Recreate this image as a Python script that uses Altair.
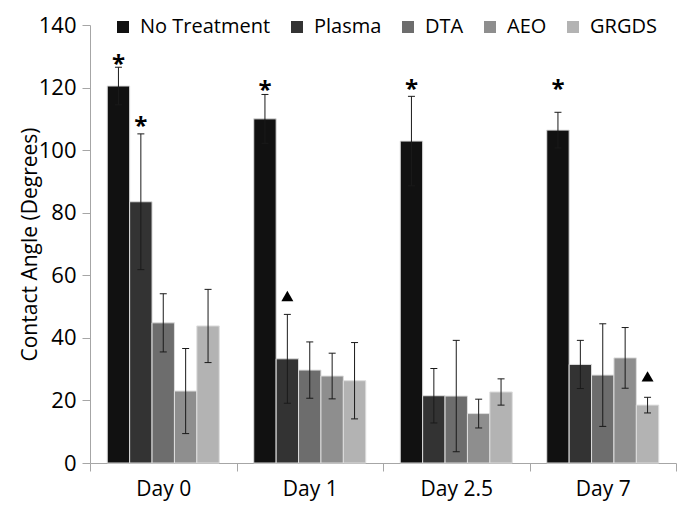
import altair as alt
import pandas as pd

days = ["Day 0", "Day 1", "Day 2.5", "Day 7"]
groups = ["No Treatment", "Plasma", "DTA", "AEO", "GRGDS"]
colors = ["#111111", "#333333", "#6d6d6d", "#8e8e8e", "#b3b3b3"]

no_treatment = [120.5, 110.0, 102.9, 106.4]
no_treatment_sd = [6.0, 7.8, 14.3, 5.7]
plasma = [83.5, 33.3, 21.5, 31.5]
plasma_sd = [21.7, 14.2, 8.7, 7.7]
dta = [44.8, 29.7, 21.4, 28.1]
dta_sd = [9.3, 9.0, 17.8, 16.4]
aeo = [23.0, 27.8, 15.8, 33.6]
aeo_sd = [13.6, 7.3, 4.6, 9.7]
grgds = [43.8, 26.3, 22.7, 18.5]
grgds_sd = [11.7, 12.2, 4.2, 2.5]

star_days = ["Day 0", "Day 0", "Day 1", "Day 2.5", "Day 7"]
star_groups = ["No Treatment", "Plasma", "No Treatment", "No Treatment", "No Treatment"]
star_y = [129.4, 109.5, 121.2, 121.5, 121.5]

tri_days = ["Day 1", "Day 7"]
tri_groups = ["Plasma", "GRGDS"]
tri_y = [53.4, 27.7]

y_ticks = [0, 20, 40, 60, 80, 100, 120, 140]

means = [no_treatment, plasma, dta, aeo, grgds]
sds = [no_treatment_sd, plasma_sd, dta_sd, aeo_sd, grgds_sd]
rows = []
for g, m, s in zip(groups, means, sds):
    for d, mv, sv in zip(days, m, s):
        rows.append({"day": d, "group": g, "mean": mv, "lo": mv - sv, "hi": mv + sv})
df = pd.DataFrame(rows)
stars = pd.DataFrame({"day": star_days, "group": star_groups, "y": star_y})
tris = pd.DataFrame({"day": tri_days, "group": tri_groups, "y": tri_y})

FONT = "Open Sans"
AXC = "#a6a6a6"

x_enc = alt.X(
    "day:N", sort=days,
    scale=alt.Scale(domain=days, paddingInner=0, paddingOuter=0),
    axis=alt.Axis(title=None, labelAngle=0, tickBand="extent", tickSize=8,
                  labelFontSize=21, labelFont=FONT, labelColor="black",
                  labelPadding=7, domainColor=AXC, tickColor=AXC),
)
xo_enc = alt.XOffset("group:N", sort=groups,
                     scale=alt.Scale(domain=groups, paddingInner=0, paddingOuter=0.77))
y_scale = alt.Scale(domain=[0, 140], nice=False)

bars = alt.Chart(df).mark_bar(stroke="#dddddd", strokeWidth=1).encode(
    x=x_enc,
    xOffset=xo_enc,
    y=alt.Y("mean:Q", scale=y_scale,
            axis=alt.Axis(values=y_ticks, title="Contact Angle (Degrees)", grid=False,
                          tickSize=8, labelFontSize=22, labelFont=FONT, labelColor="black",
                          labelPadding=6, titleFontSize=21, titleFont=FONT,
                          titleFontWeight="normal", titleColor="black", titleX=-50,
                          domainColor=AXC, tickColor=AXC)),
    color=alt.Color("group:N", sort=groups,
                    scale=alt.Scale(domain=groups, range=colors),
                    legend=alt.Legend(orient="none", legendX=23, legendY=-8,
                                      direction="horizontal", title=None,
                                      symbolType="square", symbolSize=144,
                                      symbolStrokeWidth=0, labelFontSize=20,
                                      labelFont=FONT, labelColor="black",
                                      labelOffset=7, columnPadding=16, padding=0)),
)

rules = alt.Chart(df).mark_rule(color="#1a1a1a", strokeWidth=1).encode(
    x=alt.X("day:N", sort=days), xOffset=alt.XOffset("group:N", sort=groups),
    y=alt.Y("lo:Q"), y2="hi:Q",
)

caps = alt.Chart(df).transform_fold(["lo", "hi"], as_=["cap", "val"]).mark_tick(
    color="#1a1a1a", size=7, thickness=1, opacity=1
).encode(
    x=alt.X("day:N", sort=days), xOffset=alt.XOffset("group:N", sort=groups),
    y=alt.Y("val:Q"),
)

star_layer = alt.Chart(stars).mark_text(
    text="*", font=FONT, fontSize=24, fontWeight="bold", color="black",
    baseline="alphabetic", dy=14
).encode(
    x=alt.X("day:N", sort=days), xOffset=alt.XOffset("group:N", sort=groups),
    y=alt.Y("y:Q"),
)

tri_layer = alt.Chart(tris).mark_point(
    shape="triangle-up", filled=True, color="black", size=144, opacity=1
).encode(
    x=alt.X("day:N", sort=days), xOffset=alt.XOffset("group:N", sort=groups),
    y=alt.Y("y:Q"),
)

chart = alt.layer(bars, rules, caps, star_layer, tri_layer).properties(
    width=586, height=438,
    autosize=alt.AutoSizeParams(type="none"),
    padding={"left": 82, "top": 17, "right": 2, "bottom": 41},
).configure_view(stroke=None).configure_axis(domainWidth=1, tickWidth=1)

chart.save("out.html", embed_options={"renderer": "svg", "actions": False})
